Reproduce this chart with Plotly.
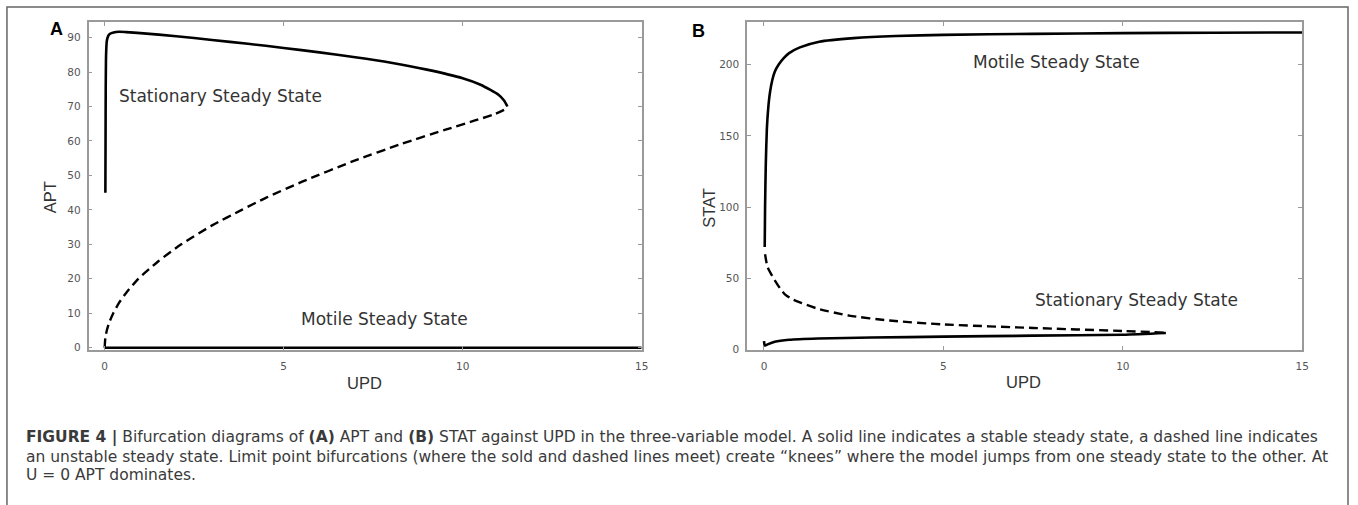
import plotly.graph_objects as go

W, H = 1358, 505

# ---------------- data ----------------
# Panel A: APT vs UPD
a_stat_x = [0.02, 0.025, 0.03, 0.04, 0.06, 0.1, 0.15, 0.25, 0.4, 0.6, 1.0, 2.0, 3.0, 4.0, 5.0, 6.0, 7.0, 8.0, 9.0, 10.0, 10.5, 11.0, 11.15, 11.25]
a_stat_y = [45, 60, 75, 85, 89, 90.5, 91.1, 91.5, 91.7, 91.6, 91.3, 90.4, 89.3, 88.2, 87.0, 85.7, 84.3, 82.7, 80.7, 78.2, 76.3, 73.4, 71.8, 70.0]
a_unst_x = [0.0, 0.02, 0.06, 0.12, 0.24, 0.4, 0.6, 0.94, 1.5, 2.14, 3.0, 3.83, 4.5, 5.5, 6.96, 8.3, 9.5, 10.3, 10.9, 11.25]
a_unst_y = [0.0, 2.9, 5.0, 7.1, 10.0, 13.0, 15.9, 20.0, 25.1, 30.0, 35.5, 40.0, 43.5, 48.1, 54.2, 59.2, 63.2, 65.8, 67.8, 69.5]
a_mot_x = [0.0, 15.0]
a_mot_y = [0.0, 0.0]

# Panel B: STAT vs UPD
b_mot_x = [0.02, 0.03, 0.05, 0.08, 0.12, 0.17, 0.23, 0.3, 0.41, 0.55, 0.7, 1.0, 1.54, 2.5, 3.67, 5.0, 7.5, 10.0, 12.5, 15.0]
b_mot_y = [72, 100, 130, 155, 170, 181, 189, 195, 200, 204.5, 208, 212, 216, 218.5, 220, 220.8, 221.5, 222.0, 222.3, 222.5]
b_unst_x = [0.03, 0.1, 0.27, 0.45, 0.6, 0.8, 1.05, 1.5, 2.37, 3.5, 5.0, 7.5, 10.0, 11.2]
b_unst_y = [67, 58, 50, 43, 38.5, 35.3, 32.8, 28.8, 24.0, 20.5, 17.8, 15.3, 13.2, 12.0]
b_stat_x = [0.0, 0.02, 0.05, 0.1, 0.3, 0.7, 1.5, 3.0, 5.0, 7.5, 10.0, 11.2]
b_stat_y = [6.0, 3.0, 3.2, 3.8, 5.6, 7.0, 7.9, 8.6, 9.2, 9.9, 10.6, 11.8]

x_ticks = [0, 5, 10, 15]
a_y_ticks = [0, 10, 20, 30, 40, 50, 60, 70, 80, 90]
b_y_ticks = [0, 50, 100, 150, 200]

caption_lines = [
    "<b>FIGURE 4 |</b> Bifurcation diagrams of <b>(A)</b> APT and <b>(B)</b> STAT against UPD in the three-variable model. A solid line indicates a stable steady state, a dashed line indicates",
    "an unstable steady state. Limit point bifurcations (where the sold and dashed lines meet) create \u201cknees\u201d where the model jumps from one steady state to the other. At",
    "U = 0 APT dominates.",
]

# ---------------- figure ----------------
def px(x):
    return x / W

def py(y):
    return 1 - y / H

fig = go.Figure()

solid = dict(color="black", width=2.6, shape="spline", smoothing=0.6)
dashed = dict(color="black", width=2.4, dash="9px,5px", shape="spline", smoothing=0.6)

fig.add_trace(go.Scatter(x=a_mot_x, y=a_mot_y, mode="lines", line=dict(color="black", width=2.6), xaxis="x", yaxis="y"))
fig.add_trace(go.Scatter(x=a_stat_x, y=a_stat_y, mode="lines", line=solid, xaxis="x", yaxis="y"))
fig.add_trace(go.Scatter(x=a_unst_x, y=a_unst_y, mode="lines", line=dashed, xaxis="x", yaxis="y"))

fig.add_trace(go.Scatter(x=b_mot_x, y=b_mot_y, mode="lines", line=solid, xaxis="x2", yaxis="y2"))
fig.add_trace(go.Scatter(x=b_unst_x, y=b_unst_y, mode="lines", line=dashed, xaxis="x2", yaxis="y2"))
fig.add_trace(go.Scatter(x=b_stat_x, y=b_stat_y, mode="lines", line=solid, xaxis="x2", yaxis="y2"))

axis_common = dict(
    showline=True, linecolor="#9a9a9a", linewidth=1.6, mirror="allticks",
    ticks="inside", ticklen=4, tickcolor="#9a9a9a", tickwidth=1,
    showgrid=False, zeroline=False,
    tickfont=dict(family="DejaVu Sans", size=10.5, color="#555555"),
)

ydom = [py(354), py(22)]

fig.update_layout(
    width=W, height=H,
    margin=dict(l=0, r=0, t=0, b=0),
    paper_bgcolor="white", plot_bgcolor="white",
    showlegend=False,
    xaxis=dict(domain=[px(89), px(645)], range=[-0.45, 15], tickvals=x_ticks, ticklabelstandoff=6, anchor="y", **axis_common),
    yaxis=dict(domain=ydom, range=[-0.6, 94.6], tickvals=a_y_ticks, ticklabelstandoff=4, anchor="x", **axis_common),
    xaxis2=dict(domain=[px(751), px(1309)], range=[-0.47, 15], tickvals=x_ticks, ticklabelstandoff=6, anchor="y2", **axis_common),
    yaxis2=dict(domain=ydom, range=[0, 230], tickvals=b_y_ticks, ticklabelstandoff=4, anchor="x2", **axis_common),
)

ann = []
def text(x, y, s, size, family="Liberation Sans, Arial", color="#333333", xanchor="center", yanchor="middle", angle=0):
    ann.append(dict(xref="paper", yref="paper", x=px(x), y=py(y), text=s, showarrow=False,
                    xanchor=xanchor, yanchor=yanchor, textangle=angle,
                    font=dict(family=family, size=size, color=color)))

# panel labels
text(57, 29, "<b>A</b>", 18, color="black")
text(702, 31, "<b>B</b>", 18, color="black")
# axis titles
text(50, 200, "APT", 16.5, angle=-90)
text(366, 388, "UPD", 16.5)
text(712, 210, "STAT", 16.5, angle=-90)
text(1029, 387, "UPD", 16.5)
# state labels
state_font = "DejaVu Sans"
text(222, 97, "Stationary Steady State", 17, family=state_font)
text(386, 323, "Motile Steady State", 17, family=state_font)
text(1062, 63, "Motile Steady State", 17, family=state_font)
text(1142, 304, "Stationary Steady State", 17, family=state_font)
# caption
for i, line in enumerate(caption_lines):
    text(24, 443 + i * 19, line, 15.5, family="DejaVu Sans", color="#3a3a3a", xanchor="left")

fig.update_layout(annotations=ann)

# outer frame
fig.add_shape(type="rect", xref="paper", yref="paper", x0=px(7), x1=px(1355), y0=py(515), y1=py(7),
              line=dict(color="#666666", width=1.5), fillcolor="rgba(0,0,0,0)", layer="below")

fig.write_html("out.html")
